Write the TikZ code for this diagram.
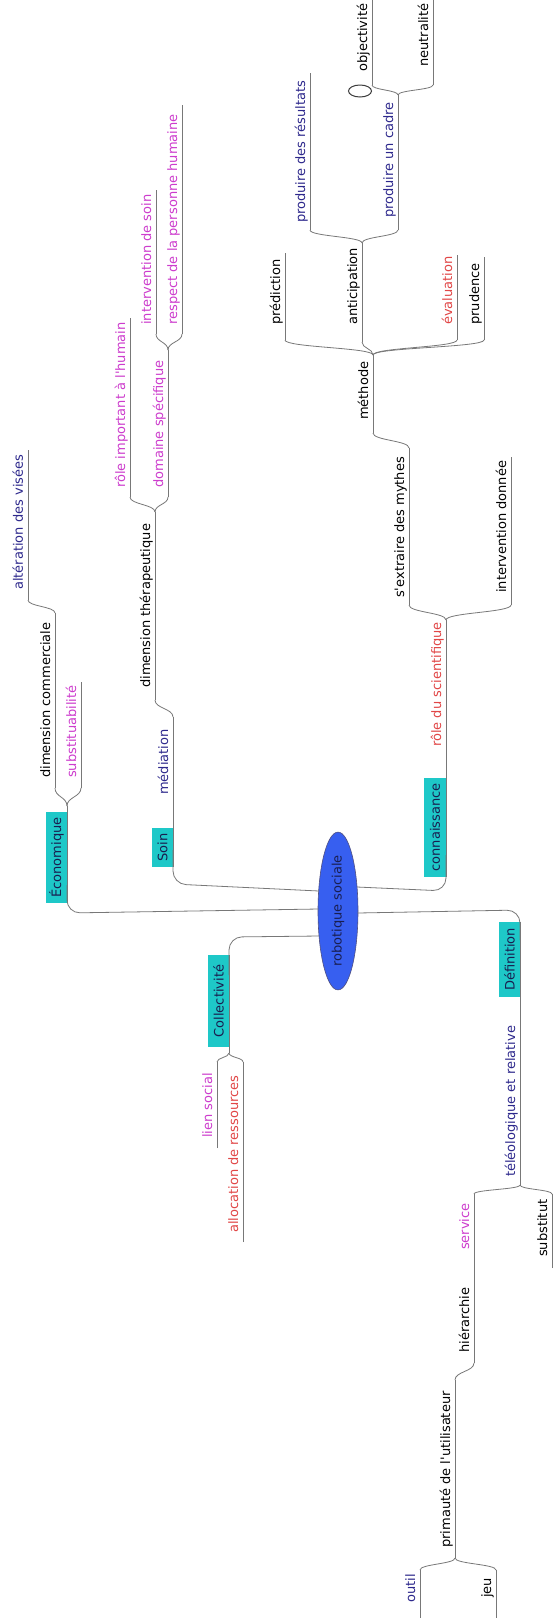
\documentclass[tikz,border=0pt]{standalone}
\usepackage{fontspec}
\setmainfont{DejaVu Sans}
\usetikzlibrary{calc,shapes.geometric}
\definecolor{navy}{RGB}{45,40,140}
\definecolor{mag}{RGB}{205,60,205}
\definecolor{redt}{RGB}{225,70,70}
\definecolor{tealbox}{RGB}{30,200,200}
\definecolor{rootblue}{RGB}{55,95,240}
\definecolor{rootedge}{RGB}{80,80,130}
\definecolor{edge}{RGB}{120,120,120}
\definecolor{boxtext}{RGB}{25,30,80}
\tikzset{
  uline/.style={draw=edge, line width=0.8pt},
  lbl/.style={rotate=90, inner sep=0pt, font=\fontsize{13}{15}\selectfont},
  branchbox/.style={rotate=90, fill=tealbox, inner sep=0pt, minimum height=21pt, text=boxtext, font=\fontsize{13}{15}\selectfont},
  rootlink/.style={draw=edge, line width=0.8pt, rounded corners=13pt},
}
% name, x, y bottom, y top, y text start, colour, text
\newcommand\mmitem[7]{%
  \coordinate (#1b) at (#2,#3);
  \coordinate (#1t) at (#2,#4);
  \draw[uline] (#1b) -- (#1t);
  \node[lbl, text=#6, anchor=base west] (#1) at (#2-5,#5) {#7};}
\newcommand\mmfork[2]{\draw[uline] (#1) .. controls ($(#1)!.5!(#1|-#2)$) and ($(#2)!.5!(#2|-#1)$) .. (#2);}
\begin{document}
\begin{tikzpicture}[x=1pt,y=-1pt]
\useasboundingbox (0,0) rectangle (557,1618);
\fill[white] (0,0) rectangle (557,1618);
\clip (0,0) rectangle (557,1618);

% root
\node[ellipse, rotate=90, fill=rootblue, draw=rootedge, line width=0.6pt, minimum width=152pt, minimum height=40pt, inner sep=0pt, text=boxtext, font=\fontsize{13}{15}\selectfont] (root) at (338,911) {robotique sociale};

% main branch boxes
\node[branchbox, minimum width=91pt] (eco) at (56.5,857.5) {Économique};
\node[branchbox, minimum width=39pt] (soin) at (162.5,847.5) {Soin};
\node[branchbox, minimum width=99pt, minimum height=22pt] (conn) at (435,827.5) {connaissance};
\node[branchbox, minimum width=92pt] (coll) at (218.5,1001) {Collectivité};
\node[branchbox, minimum width=75pt] (def) at (509.5,959.5) {Définition};

% root links
\coordinate (rEco) at ($(root.center)+(-19.5,-2)$);
\coordinate (rSoin) at ($(root.center)+(-19,-20)$);
\coordinate (rColl) at ($(root.center)+(-19,25)$);
\coordinate (rConn) at ($(root.center)+(19,-24)$);
\coordinate (rDef) at ($(root.center)+(19.5,2)$);
\coordinate (ecoc) at (67,913);   \coordinate (ecoj) at (67,885);
\coordinate (soinc) at (173,884); \coordinate (soinj) at (173,850);
\coordinate (collc) at (229,937); \coordinate (collj) at (229,975);
\coordinate (connc) at (446,891); \coordinate (connj) at (446,855);
\coordinate (defc) at (520,910);  \coordinate (defj) at (520,940);
\draw[rootlink] (rEco) -- (ecoc) -- (ecoj);
\draw[rootlink] (rSoin) -- (soinc) -- (soinj);
\draw[rootlink] (rColl) -- (collc) -- (collj);
\draw[rootlink] (rConn) -- (connc) -- (connj);
\draw[rootlink] (rDef) -- (defc) -- (defj);

% box edge lines
\coordinate (ecob) at (67,903); \coordinate (ecof) at (67,806);
\draw[uline] (ecob) -- (ecof);
\coordinate (collt) at (229,955); \coordinate (collf) at (229,1053);
\draw[uline] (collt) -- (collf);

% Economique
\mmitem{dc}{55}{788}{613}{778}{black}{dimension commerciale}
\mmitem{sub}{81}{788}{682}{778}{mag}{substituabilité}
\mmitem{av}{28}{600}{450}{590}{navy}{altération des visées}
\mmfork{ecof}{dcb}
\mmfork{ecof}{subb}
\mmfork{dct}{avb}

% Soin
\mmitem{med}{173}{867}{717}{795}{navy}{médiation}
\mmitem{dt}{155}{700}{512}{688}{black}{dimension thérapeutique}
\mmitem{rih}{130}{497}{318}{488}{mag}{rôle important à l\textquotesingle humain}
\mmitem{dsp}{168}{497}{350}{488}{mag}{domaine spécifique}
\mmitem{ids}{156}{334}{190}{325}{mag}{intervention de soin}
\mmitem{rph}{182}{334}{105}{325}{mag}{respect de la personne humaine}
\mmfork{medt}{dtb}
\mmfork{dtt}{rihb}
\mmfork{dtt}{dspb}
\mmfork{dspt}{idsb}
\mmfork{dspt}{rphb}

% connaissance
\mmitem{rds}{446}{877}{620}{747}{redt}{rôle du scientifique}
\mmitem{sem}{409}{605}{448}{598}{black}{s\textquotesingle extraire des mythes}
\mmitem{idn}{511}{605}{457}{593}{black}{intervention donnée}
\mmitem{met}{373}{433}{355}{420}{black}{méthode}
\mmitem{pre}{285}{340}{253}{325}{black}{prédiction}
\mmitem{ant}{362}{342}{243}{325}{black}{anticipation}
\mmitem{eva}{457}{340}{255}{325}{redt}{évaluation}
\mmitem{pru}{484}{340}{257}{325}{black}{prudence}
\mmitem{pdr}{310}{230}{73}{223}{navy}{produire des résultats}
\mmitem{puc}{398}{230}{95}{218}{navy}{produire un cadre}
\mmitem{obj}{372}{85}{-10}{72}{black}{objectivité}
\mmitem{neu}{433}{85}{-10}{67}{black}{neutralité}
\node[ellipse, draw={rgb,255:red,60;green,60;blue,60}, line width=1pt, minimum width=23pt, minimum height=12pt, inner sep=0pt] (objicon) at (360,91) {};
\mmfork{rdst}{semb}
\mmfork{rdst}{idnb}
\mmfork{semt}{metb}
\mmfork{mett}{preb}
\mmfork{mett}{antb}
\mmfork{mett}{evab}
\mmfork{mett}{prub}
\mmfork{antt}{pdrb}
\mmfork{antt}{pucb}
\mmfork{puct}{objb}
\mmfork{puct}{neub}

% Collectivite
\mmitem{ls}{217}{1148}{1062}{1138}{mag}{lien social}
\mmitem{ar}{243}{1242}{1062}{1233}{redt}{allocation de ressources}
\mmfork{collf}{lst}
\mmfork{collf}{art}

% Definition
\mmitem{tel}{520}{1185}{922}{1177}{navy}{téléologique et relative}
\mmitem{ser}{474}{1260}{1194}{1250}{mag}{service}
\mmitem{hie}{474}{1363}{1260}{1353}{black}{hiérarchie}
\mmitem{pri}{455}{1558}{1380}{1548}{black}{primauté de l\textquotesingle utilisateur}
\mmitem{out}{420}{1630}{1570}{1603}{navy}{outil}
\mmitem{jeu}{496}{1630}{1570}{1598}{black}{jeu}
\mmitem{sst}{552}{1268}{1194}{1257}{black}{substitut}
\mmfork{telb}{sert}
\mmfork{telb}{sstt}
\mmfork{hieb}{prit}
\mmfork{prib}{outt}
\mmfork{prib}{jeut}
\end{tikzpicture}
\end{document}
